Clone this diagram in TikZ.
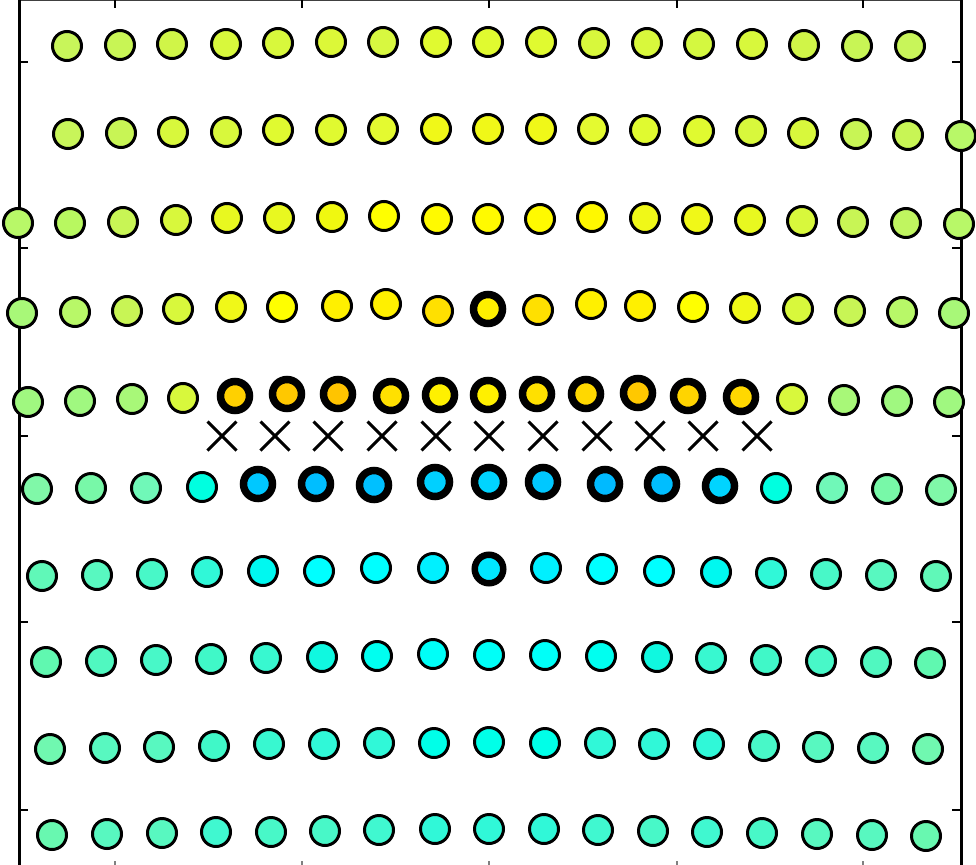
\documentclass[tikz,border=0pt]{standalone}
\usepackage{tikz}
\tikzset{
  dot/.style={draw=black,line width=3pt},
  bolddot/.style={draw=black,line width=7.5pt},
  xmark/.style={draw=black,line width=3pt},
  axisline/.style={draw=black,line width=3pt},
  tick/.style={draw=black,line width=2.5pt},
}
\begin{document}
\begin{tikzpicture}[x=1pt,y=-1pt]
\useasboundingbox (0,0) rectangle (976,864);
\clip (0,0) rectangle (976,864);
\fill[white] (0,0) rectangle (976,864);
% frame
\draw[draw=black!75,line width=2pt] (19,0) -- (961,0);
\draw[axisline] (19,0) -- (19,870);
\draw[axisline] (961,0) -- (961,870);
\foreach \t in {115,302,489,677,863}{
  \draw[tick] (\t,0) -- (\t,8);
  \draw[tick,draw=black!50] (\t,861) -- (\t,866);
}
\foreach \t in {62,248,436,622,810}{
  \draw[tick] (19,\t) -- (28,\t);
  \draw[tick] (961,\t) -- (952,\t);
}
% normal circles
\foreach \x/\y/\c in {
 67/46/C8F55A,120/45/C8F555,172/44/D0F548,226/44/D8F83C,278/43/D8F83C,331/42/DCF838,383/42/D8F840,436/42/E0FA30,488/42/E0FA30,541/42/E0FA30,594/43/D8F83C,647/43/D8F83C,699/44/D4F840,752/44/D8F83C,804/45/D0F548,857/46/C8F555,910/46/C8F55A,
 68/134/C8F55A,121/133/C8F555,173/132/D8F83C,226/132/D8F83C,278/130/E0FA30,331/130/E0FA30,383/129/E4FA30,436/129/F0F818,488/129/F0F818,541/129/F0F818,593/129/E4FA30,645/130/E0FA30,699/131/E0FA30,751/131/D8F83C,803/133/D8F83C,856/134/C8F555,908/135/C8F555,961/136/B8F868,
 18/223/B8F868,70/223/B8F860,123/222/C8F555,176/220/D8F83C,227/218/E8F820,279/218/E8F820,332/217/F0F810,384/216/FFFF00,437/219/FFFA00,488/219/FFFA00,540/219/FFFA00,592/217/FFF800,645/218/F0F818,697/219/F0F818,750/220/E8F820,802/221/D8F83C,853/222/C8F555,906/223/C0F560,959/224/B8F868,
 22/313/A8F878,75/312/B8F868,127/311/C8F555,178/309/D8F83C,231/307/F0F818,282/307/FFFF00,337/306/FFF000,386/304/FFF000,438/311/FFE000,538/310/FFE000,591/304/FFF000,640/306/FFF000,693/307/FFFF00,745/308/F0F818,798/309/D8F83C,850/311/C8F555,902/312/B8F868,954/313/A8F878,
 28/402/A0F880,80/401/A0F880,132/399/A8F878,183/398/D8F83C,792/399/D8F83C,844/400/A8F878,897/401/A0F880,949/402/A0F880,
 37/489/80F8A8,91/488/78F8A8,146/488/70F8B8,202/487/00FFE0,776/488/00FFE0,832/488/70F8B8,887/489/78F8A8,941/490/80F8A8,
 42/576/60F8B8,97/575/58F8C0,152/574/48F8C8,207/572/30F8D8,263/571/00F8F0,319/571/00FFFF,376/568/00FFFF,433/568/00F0FF,546/568/00F0FF,602/569/00FFFF,659/571/00FFFF,716/572/00F8F0,771/573/30F8D8,826/574/48F8C8,881/575/58F8C0,936/576/60F8B8,
 46/662/60F8B0,101/661/50F8C0,156/660/48F8C8,211/659/40F8C8,266/658/38F8D0,322/657/10F8E0,377/656/00FFF0,433/654/00FFF8,489/655/00FFF8,545/655/00FFF8,601/656/00FFF0,657/657/10F8E0,711/658/38F8D0,766/660/40F8C8,821/661/48F8C8,876/662/50F8C0,930/663/60F8B0,
 50/749/70F8B0,105/748/58F8C0,159/747/58F8C0,214/746/40F8C8,269/744/38F8D0,324/744/30F8D8,379/743/30F8D8,434/743/00FFE8,489/742/00FFE8,545/743/00FFE8,600/743/30F8D8,654/744/30F8D8,709/744/30F8D8,764/746/48F8C8,818/747/58F8C0,873/748/58F8C0,928/749/70F8B0,
 52/835/68F8B0,107/834/58F8C0,162/833/58F8C0,216/832/40F8D0,271/832/48F8C8,325/831/48F8C8,379/830/40F8D0,435/829/30F8D8,489/829/30F8D8,544/829/30F8D8,598/830/40F8D0,653/831/48F8C8,707/832/40F8D0,762/833/48F8C8,817/834/58F8C0,872/835/58F8C0,926/836/68F8B0}{
  \definecolor{cc}{HTML}{\c}
  \draw[dot,fill=cc] (\x,\y) circle[radius=14.5];
}
% bold circles
\foreach \x/\y/\c in {
 488/309/FFF000,
 235/396/FFD000,287/394/FFC800,338/394/FFC400,391/396/FFE000,440/395/FFF000,488/395/FFF000,537/394/FFE000,586/394/FFD800,638/393/FFC800,688/396/FFD400,741/397/FFD800,
 258/484/00C8FF,316/484/00BEFF,374/485/00C0FF,435/482/00D0FF,489/482/00D4FF,543/482/00C8FF,605/484/00BAFF,662/484/00BEFF,720/486/00D4FF}{
  \definecolor{cc}{HTML}{\c}
  \draw[bolddot,fill=cc] (\x,\y) circle[radius=14.5];
}
\definecolor{cc}{HTML}{00E8FF}
\draw[bolddot,line width=6.5pt,fill=cc] (489,569) circle[radius=14.25];
% crosses
\foreach \x in {222,275,328,382,436,489,543,597,650,703,757}{
  \draw[xmark] (\x-14.5,421.5) -- (\x+14.5,450.5);
  \draw[xmark] (\x-14.5,450.5) -- (\x+14.5,421.5);
}
\end{tikzpicture}
\end{document}
